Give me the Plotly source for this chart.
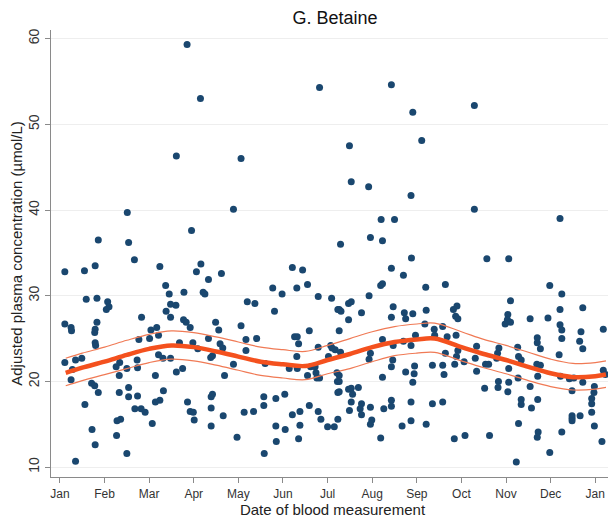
import plotly.graph_objects as go

# Scatter data: x = position in months since 1 Jan (0 = Jan, 12 = next Jan), y = betaine (µmol/L)
month_pos = [
    1.51, 0.86, 1.54, 2.95, 1.67, 0.11, 0.55, 0.79, 2.24, 3.06,
    0.59, 0.83, 1.07, 1.10, 1.04, 2.37, 2.45, 2.78, 2.48, 2.60,
    2.38, 2.48, 1.83, 0.11, 0.25, 0.26, 0.83, 0.79, 0.78, 0.79,
    0.80, 2.04, 2.17, 2.21, 2.01, 1.77, 2.77, 2.83, 2.92, 2.68,
    2.98, 0.11, 0.35, 0.49, 0.28, 0.25, 1.34, 1.26, 1.33, 1.50,
    1.73, 1.74, 2.21, 2.31, 2.48, 2.14, 2.61, 2.75, 0.71, 0.78,
    0.86, 0.56, 1.33, 1.54, 1.54, 1.74, 1.68, 1.82, 1.91, 2.32,
    2.24, 2.14, 2.07, 2.86, 2.92, 2.99, 3.01, 1.36, 1.28, 1.27,
    0.72, 0.79, 1.50, 0.35,
    2.85, 3.15, 2.61, 4.06, 3.89,
    5.82, 7.43, 7.91, 9.29, 6.49, 8.11, 6.53, 6.92, 7.87, 9.29,
    11.21, 7.20, 7.50, 6.29, 6.96, 7.23, 7.88, 9.57, 10.06,
    3.16, 3.33, 3.62, 3.21, 3.25, 4.20, 4.37, 4.77, 4.98, 4.81,
    5.21, 5.44, 5.31, 5.55, 5.79, 6.09, 6.23,
    3.49, 3.56, 3.33, 3.09, 3.59, 3.65, 3.42, 3.38, 3.89, 3.69,
    4.06, 4.17, 4.41, 4.17, 4.60, 5.26, 5.32, 5.35, 5.31, 5.14,
    5.32, 5.59, 5.55, 5.62, 5.72, 5.74, 5.76, 5.82, 5.79, 6.07,
    6.10, 6.02, 6.21, 6.22, 6.23, 6.23,
    3.39, 3.42, 3.39, 3.39, 3.66, 3.97, 4.13, 4.34, 4.57, 4.57,
    4.84, 5.04, 4.84, 4.85, 4.58, 5.05, 5.21, 5.38, 5.38, 5.35,
    5.59, 5.79, 5.85, 6.00, 6.15,
    7.43, 7.70, 7.19, 7.23, 8.20, 8.64, 6.26, 6.30, 6.47, 6.53,
    6.76, 6.47, 6.93, 6.26, 7.47, 7.43, 7.72, 7.75, 7.91, 8.21,
    8.18, 8.39, 8.58, 8.82, 8.90, 8.87, 8.92, 8.40, 8.68, 8.88,
    7.97, 7.23, 7.47, 7.70, 7.87, 6.17, 6.29, 6.96, 6.93, 7.46,
    7.43, 7.75, 7.95, 7.94, 7.91, 7.23, 8.35, 8.58, 8.61, 8.64,
    8.92, 8.89, 8.85, 9.06, 9.31, 9.34, 9.34,
    6.26, 6.26, 6.26, 6.47, 6.53, 6.69, 6.56, 6.53, 6.49, 6.76,
    6.73, 6.76, 6.96, 7.26, 7.43, 7.43, 7.87, 8.35, 8.58, 6.99,
    6.96, 7.19, 7.67, 7.87, 8.21, 8.84, 9.08,
    10.98, 11.25, 10.10, 11.21, 11.72, 10.04, 10.03, 9.98, 10.10, 10.54,
    10.94, 11.21, 11.25, 11.25, 11.68, 11.65, 11.72, 12.18, 10.70, 10.70,
    10.77, 10.26, 10.28, 10.34, 9.84, 9.81, 9.79, 9.54, 9.61, 10.06,
    10.27, 10.69, 10.77, 10.71, 11.19, 11.22, 11.42, 11.52, 11.72, 11.48,
    12.18, 12.23, 9.83, 9.82, 9.52, 10.04, 10.06, 10.54, 10.34, 10.34,
    10.57, 10.71, 10.28, 10.72, 10.70, 11.25, 10.98, 10.23, 9.63, 11.48,
    11.48, 11.48, 11.66, 11.98, 11.97, 11.92, 11.92, 11.92, 11.98, 12.15,
]
betaine = [
    39.7, 36.5, 36.2, 37.6, 34.2, 32.8, 32.9, 33.5, 33.4, 32.8,
    29.6, 29.7, 29.3, 28.7, 28.4, 31.2, 30.2, 30.4, 29.0, 28.9,
    28.2, 27.5, 27.5, 26.7, 26.3, 25.9, 26.9, 26.1, 25.7, 24.5,
    24.2, 26.0, 26.3, 25.4, 25.0, 24.9, 27.2, 26.9, 26.3, 24.5,
    24.5, 22.2, 22.5, 22.7, 21.4, 20.2, 22.2, 21.7, 20.7, 21.5,
    22.5, 21.6, 23.1, 22.7, 22.7, 20.7, 21.1, 21.5, 19.8, 19.5,
    18.7, 17.3, 18.7, 19.3, 18.2, 18.3, 16.8, 16.8, 16.4, 18.9,
    17.8, 17.6, 15.1, 17.6, 16.5, 16.4, 15.5, 15.6, 15.4, 13.7,
    14.4, 12.6, 11.6, 10.7,
    59.3, 53.0, 46.3, 46.0, 40.1,
    54.3, 54.6, 51.4, 52.2, 47.5, 48.1, 43.3, 42.7, 41.7, 40.1,
    39.0, 38.9, 38.9, 36.0, 36.8, 36.4, 34.4, 34.3, 34.3,
    33.7, 31.9, 32.6, 30.4, 30.2, 29.3, 29.1, 30.9, 30.2, 28.2,
    33.3, 33.0, 30.9, 31.3, 29.9, 29.7, 28.4,
    26.9, 26.0, 25.0, 23.8, 24.4, 23.9, 23.0, 22.8, 22.0, 20.7,
    26.5, 24.9, 25.0, 23.6, 22.1, 25.2, 25.2, 24.4, 22.9, 21.5,
    21.5, 25.9, 20.7, 21.7, 21.7, 21.0, 20.4, 20.4, 24.0, 24.2,
    23.9, 22.9, 21.0, 20.0, 18.7, 15.6,
    18.2, 18.5, 16.9, 14.8, 16.0, 13.5, 16.4, 16.5, 18.2, 17.2,
    18.0, 18.5, 14.8, 13.0, 11.6, 14.4, 16.1, 16.5, 14.9, 13.3,
    17.2, 16.5, 15.6, 14.7, 14.7,
    33.2, 32.4, 31.2, 31.4, 31.0, 31.3, 28.4, 28.2, 29.1, 29.3,
    28.0, 27.2, 30.0, 25.9, 28.7, 27.5, 28.0, 27.3, 27.9, 28.3,
    26.7, 26.1, 26.4, 28.4, 28.8, 27.6, 27.3, 25.4, 25.2, 25.4,
    25.4, 24.9, 24.2, 24.7, 24.2, 23.7, 23.4, 23.3, 22.6, 22.5,
    21.7, 21.1, 21.8, 20.9, 19.9, 20.5, 21.9, 21.9, 20.8, 23.3,
    23.6, 22.9, 22.0, 22.3, 22.7, 24.1, 21.2,
    20.7, 20.0, 18.8, 19.1, 19.2, 19.3, 18.5, 17.6, 16.6, 17.4,
    16.8, 16.1, 17.0, 16.8, 17.8, 17.1, 17.6, 17.4, 17.6, 15.5,
    15.0, 13.4, 14.8, 15.4, 15.0, 13.3, 13.7,
    31.2, 30.2, 29.4, 28.4, 28.6, 27.8, 27.2, 26.7, 26.9, 27.3,
    27.4, 26.6, 26.0, 25.0, 25.8, 24.7, 23.8, 26.1, 25.1, 24.5,
    23.8, 24.0, 22.9, 22.5, 23.9, 23.3, 22.7, 22.0, 22.0, 21.5,
    20.4, 22.0, 21.9, 20.6, 23.1, 20.6, 20.3, 20.4, 19.9, 18.9,
    21.3, 20.8, 20.0, 19.3, 19.2, 18.8, 19.9, 19.4, 17.9, 17.3,
    16.9, 17.9, 15.1, 14.1, 13.5, 14.1, 11.7, 10.6, 13.7, 16.0,
    15.7, 15.4, 16.0, 19.4, 18.7, 18.0, 17.4, 16.4, 14.8, 13.0,
]

# Fitted seasonal curve with 95% CI
fit_x = [0.13, 0.5, 1.0, 1.5, 2.0, 2.5, 3.0, 3.5, 4.0, 4.5, 5.0, 5.5, 6.0,
         6.5, 7.0, 7.5, 8.0, 8.4, 9.0, 9.5, 10.0, 10.5, 11.0, 11.5, 12.0, 12.24]
fit_y = [21.0, 21.6, 22.3, 23.1, 23.8, 24.2, 24.0, 23.5, 22.9, 22.3, 22.0, 21.8, 22.5,
         23.2, 24.0, 24.6, 24.9, 25.0, 24.0, 23.2, 22.5, 21.7, 20.95, 20.5, 20.6, 20.8]
ci_upper = [22.7, 23.3, 24.0, 24.8, 25.5, 25.9, 25.7, 25.2, 24.6, 24.0, 23.7, 23.5, 24.2,
            25.0, 25.8, 26.4, 26.7, 26.8, 25.8, 24.9, 24.2, 23.4, 22.6, 22.1, 22.2, 22.4]
ci_lower = [19.5, 20.1, 20.8, 21.5, 22.2, 22.6, 22.4, 21.9, 21.3, 20.7, 20.4, 20.2, 20.9,
            21.5, 22.3, 23.0, 23.3, 23.4, 22.4, 21.6, 20.9, 20.1, 19.4, 19.0, 19.1, 19.3]

tick_pos = list(range(13))
tick_labels = ["Jan", "Feb", "Mar", "Apr", "May", "Jun", "Jul", "Aug", "Sep", "Oct",
               "Nov", "Dec", "Jan"]
y_ticks = [10, 20, 30, 40, 50, 60]

navy = "#1a476f"
orange = "#f4511e"

fig = go.Figure()
fig.add_trace(go.Scatter(
    x=month_pos, y=betaine, mode="markers",
    marker=dict(color=navy, size=7, line=dict(width=0)),
    showlegend=False, hoverinfo="x+y"))
for band in (ci_upper, ci_lower):
    fig.add_trace(go.Scatter(
        x=fit_x, y=band, mode="lines",
        line=dict(color="#f07a55", width=1.2, shape="spline"),
        showlegend=False))
fig.add_trace(go.Scatter(
    x=fit_x, y=fit_y, mode="lines",
    line=dict(color=orange, width=4.5, shape="spline"),
    showlegend=False))

# the page body has an 8px margin, so the figure is sized/offset to compensate
fig.update_layout(
    width=608, height=513,
    margin=dict(l=43, r=2, t=22, b=44),
    paper_bgcolor="white", plot_bgcolor="white",
    font=dict(family="Liberation Sans, Arial, sans-serif", color="#222222"),
    title=dict(text="G. Betaine", x=0.538, xanchor="center", y=0.994, yanchor="top",
               pad=dict(t=0, b=0), font=dict(size=18, color="#111111")),
    xaxis=dict(
        range=[-0.2, 12.42], tickmode="array", tickvals=tick_pos, ticktext=tick_labels,
        showgrid=False, zeroline=False, showline=True, linecolor="#8a8a8a", linewidth=1.2,
        ticks="outside", ticklen=5, tickcolor="#8a8a8a", tickwidth=1.2,
        tickfont=dict(size=12, color="#333333"), automargin=False,
        title=dict(text="Date of blood measurement", font=dict(size=15, color="#222222"),
                   standoff=0)),
    yaxis=dict(
        range=[8.85, 61.0], tickmode="array", tickvals=y_ticks,
        showgrid=True, gridcolor="#eeeeee", gridwidth=1, zeroline=False,
        showline=True, linecolor="#8a8a8a", linewidth=1.2,
        ticks="outside", ticklen=5, tickcolor="#8a8a8a", tickwidth=1.2,
        tickangle=-90, tickfont=dict(size=14, color="#333333"), automargin=False,
        title=dict(text="Adjusted plasma concentration (µmol/L)",
                   font=dict(size=15, color="#222222"), standoff=0)),
)

fig.write_html("out.html")
